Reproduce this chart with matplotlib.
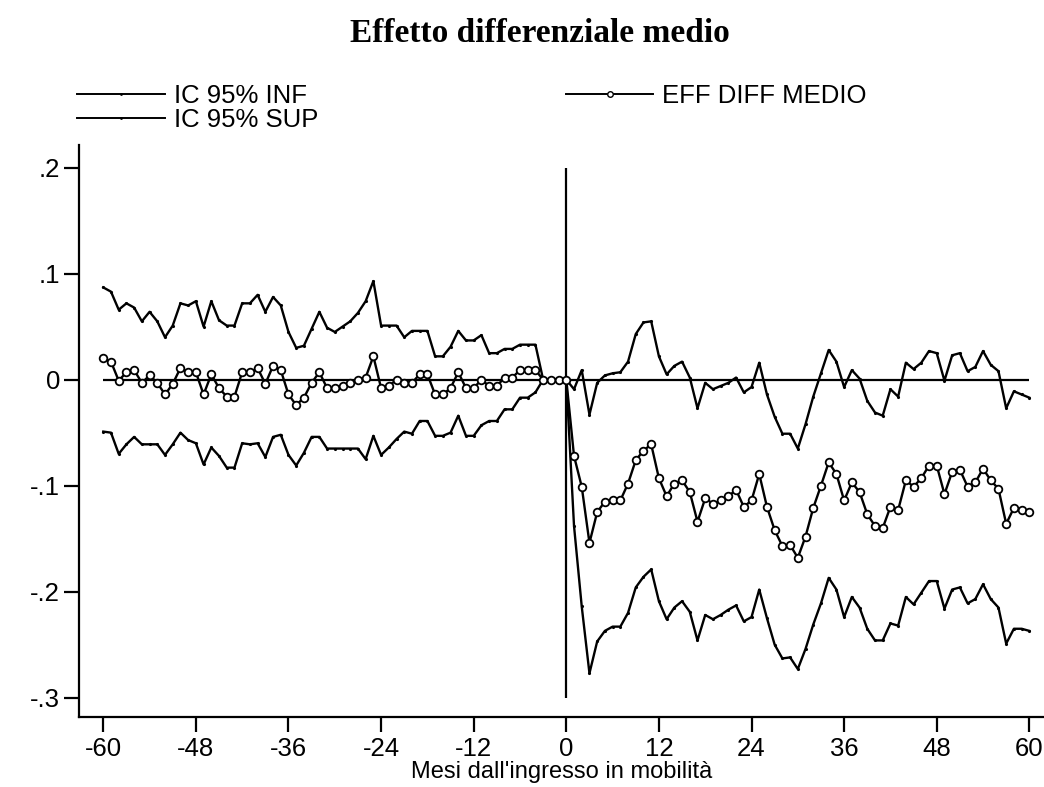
import numpy as np
import matplotlib
matplotlib.use("Agg")
import matplotlib.pyplot as plt
from matplotlib.lines import Line2D

plt.rcParams["font.family"] = ["Liberation Sans", "DejaVu Sans"]

months = np.arange(-60, 61)

ci_sup = [
    0.087, 0.083, 0.066, 0.072, 0.068, 0.055, 0.064, 0.055, 0.040, 0.051,
    0.072, 0.070, 0.074, 0.050, 0.074, 0.056, 0.051, 0.051, 0.072, 0.072,
    0.080, 0.064, 0.078, 0.070, 0.045, 0.030, 0.032, 0.048, 0.064, 0.049,
    0.045,
    0.050, 0.055, 0.063, 0.074, 0.093, 0.051, 0.051, 0.051, 0.040, 0.046,
    0.046, 0.046, 0.022, 0.022, 0.031, 0.046, 0.037, 0.037, 0.042, 0.025,
    0.025, 0.029, 0.029, 0.033, 0.033, 0.033, 0.0, 0.0, 0.0, 0.0,
    -0.009, 0.009, -0.033, -0.003, 0.004, 0.006, 0.007, 0.017, 0.043, 0.054,
    0.055, 0.022, 0.005, 0.013, 0.017, 0.002, -0.027, -0.003, -0.009, -0.006,
    -0.003, 0.002, -0.012, -0.007, 0.016, -0.014, -0.035, -0.051, -0.051, -0.065,
    -0.042, -0.016, 0.006, 0.028, 0.017, -0.007, 0.009, 0.001, -0.020, -0.031,
    -0.034, -0.009, -0.016, 0.016, 0.010, 0.016, 0.027, 0.025, -0.001, 0.023,
    0.025, 0.008, 0.012, 0.027, 0.014, 0.008, -0.027, -0.011, -0.014, -0.017,
]

eff_medio = [
    0.020, 0.017, -0.001, 0.007, 0.009, -0.003, 0.004, -0.003, -0.014, -0.004,
    0.011, 0.007, 0.007, -0.014, 0.005, -0.008, -0.016, -0.016, 0.007, 0.007,
    0.011, -0.004, 0.013, 0.009, -0.014, -0.024, -0.017, -0.003, 0.007, -0.008,
    -0.008,
    -0.006, -0.003, 0.000, 0.002, 0.022, -0.008, -0.006, 0.000, -0.003, -0.003,
    0.005, 0.005, -0.014, -0.014, -0.008, 0.007, -0.008, -0.008, 0.000, -0.006,
    -0.006, 0.002, 0.002, 0.009, 0.009, 0.009, 0.0, 0.0, 0.0, 0.0,
    -0.072, -0.101, -0.154, -0.125, -0.115, -0.114, -0.114, -0.098, -0.076, -0.067,
    -0.061, -0.093, -0.110, -0.098, -0.095, -0.106, -0.134, -0.112, -0.117, -0.114,
    -0.110, -0.104, -0.120, -0.114, -0.089, -0.120, -0.142, -0.157, -0.156, -0.168,
    -0.148, -0.121, -0.100, -0.078, -0.089, -0.114, -0.097, -0.106, -0.127, -0.138,
    -0.140, -0.120, -0.123, -0.095, -0.101, -0.093, -0.081, -0.081, -0.108, -0.087,
    -0.085, -0.101, -0.097, -0.084, -0.095, -0.103, -0.136, -0.121, -0.123, -0.125,
]

ci_inf = [
    -0.049, -0.050, -0.070, -0.061, -0.054, -0.061, -0.061, -0.061, -0.071, -0.061,
    -0.050, -0.057, -0.060, -0.080, -0.064, -0.072, -0.083, -0.083, -0.060, -0.061,
    -0.060, -0.073, -0.054, -0.052, -0.071, -0.081, -0.069, -0.054, -0.054, -0.065,
    -0.065,
    -0.065, -0.065, -0.065, -0.075, -0.053, -0.071, -0.064, -0.056, -0.049, -0.051,
    -0.039, -0.039, -0.053, -0.053, -0.050, -0.034, -0.053, -0.053, -0.043, -0.039,
    -0.039, -0.028, -0.028, -0.017, -0.017, -0.012, 0.0, 0.0, 0.0, 0.0,
    -0.138, -0.214, -0.277, -0.247, -0.237, -0.233, -0.233, -0.220, -0.196, -0.186,
    -0.179, -0.209, -0.226, -0.215, -0.209, -0.219, -0.246, -0.222, -0.226, -0.222,
    -0.217, -0.213, -0.228, -0.224, -0.198, -0.225, -0.250, -0.263, -0.262, -0.273,
    -0.254, -0.231, -0.211, -0.187, -0.198, -0.224, -0.205, -0.215, -0.235, -0.246,
    -0.246, -0.230, -0.232, -0.205, -0.212, -0.201, -0.190, -0.190, -0.216, -0.198,
    -0.196, -0.211, -0.207, -0.193, -0.207, -0.215, -0.249, -0.235, -0.235, -0.237,
]

xticks = [-60, -48, -36, -24, -12, 0, 12, 24, 36, 48, 60]
yticks = [0.2, 0.1, 0.0, -0.1, -0.2, -0.3]
ytick_labels = [".2", ".1", "0", "-.1", "-.2", "-.3"]

FS = 18.5

fig = plt.figure(figsize=(10.44, 7.87), dpi=100)
ax = fig.add_axes([0.076, 0.0886, 0.924, 0.7272])

ax.plot(months, ci_inf, color="black", lw=1.7, marker=".", ms=2.5)
ax.plot(months, ci_sup, color="black", lw=1.7, marker=".", ms=2.5)
ax.plot(months, eff_medio, color="black", lw=1.7, marker="o", ms=5.5,
        mfc="white", mec="black", mew=1.3)
ax.hlines(0, -60, 60, color="black", lw=1.6, zorder=1)
ax.vlines(0, -0.3, 0.2, color="black", lw=1.6, zorder=1)

ax.set_xlim(-63.1, 61.9)
ax.set_ylim(-0.3185, 0.2214)
ax.set_xticks(xticks)
ax.set_xticklabels([str(t) for t in xticks])
ax.set_yticks(yticks)
ax.set_yticklabels(ytick_labels)
ax.tick_params(axis="both", labelsize=FS, length=11, width=1.6, pad=3)
for side in ("top", "right"):
    ax.spines[side].set_visible(False)
for side in ("left", "bottom"):
    ax.spines[side].set_linewidth(1.6)
ax.set_xlabel("Mesi dall'ingresso in mobilità", fontsize=17, labelpad=0.5)

fig.text(0.517, 0.958, "Effetto differenziale medio", ha="center", va="center",
         fontsize=24, fontweight="bold", family=["Liberation Serif", "DejaVu Serif"])

h_inf = Line2D([], [], color="black", lw=1.4, marker=".", ms=2, markevery=[1])
h_sup = Line2D([], [], color="black", lw=1.4, marker=".", ms=2, markevery=[1])
h_eff = Line2D([], [], color="black", lw=1.4, marker="o", ms=4,
               mfc="white", mec="black", mew=1)
leg_kw = dict(frameon=False, fontsize=FS, handlelength=3.4, handletextpad=0.35,
              labelspacing=0.0, borderpad=0, borderaxespad=0)
fig.legend([h_inf, h_sup], ["IC 95% INF", "IC 95% SUP"], loc="upper left",
           bbox_to_anchor=(0.074, 0.893), **leg_kw)
fig.legend([h_eff], ["EFF DIFF MEDIO"], loc="upper left",
           bbox_to_anchor=(0.542, 0.893), **leg_kw)

fig.savefig("out.png", dpi=100)
